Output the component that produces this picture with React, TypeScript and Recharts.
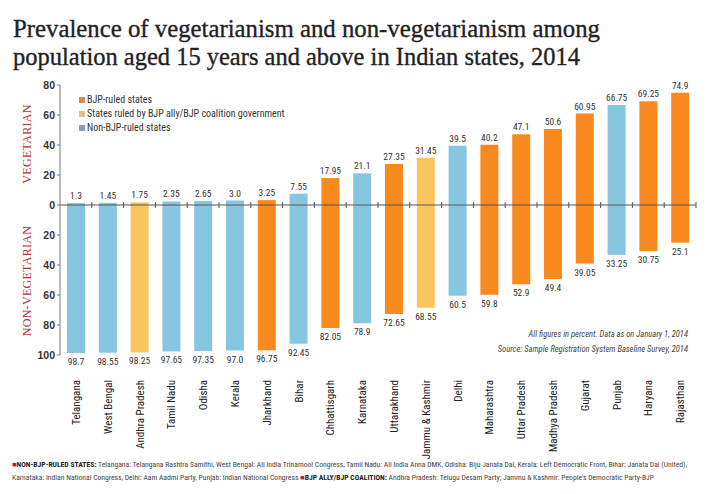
import React from 'react';
import { BarChart, Bar, XAxis, YAxis, Cell, LabelList, ReferenceLine } from 'recharts';

const states = ['Telangana', 'West Bengal', 'Andhra Pradesh', 'Tamil Nadu', 'Odisha', 'Kerala', 'Jharkhand', 'Bihar', 'Chhattisgarh', 'Karnataka', 'Uttarakhand', 'Jammu & Kashmir', 'Delhi', 'Maharashtra', 'Uttar Pradesh', 'Madhya Pradesh', 'Gujarat', 'Punjab', 'Haryana', 'Rajasthan'];
const vegValues = [1.3, 1.45, 1.75, 2.35, 2.65, 3.0, 3.25, 7.55, 17.95, 21.1, 27.35, 31.45, 39.5, 40.2, 47.1, 50.6, 60.95, 66.75, 69.25, 74.9];
const nonVegValues = [98.7, 98.55, 98.25, 97.65, 97.35, 97.0, 96.75, 92.45, 82.05, 78.9, 72.65, 68.55, 60.5, 59.8, 52.9, 49.4, 39.05, 33.25, 30.75, 25.1];
const groups = ['non', 'non', 'ally', 'non', 'non', 'non', 'bjp', 'non', 'bjp', 'non', 'bjp', 'ally', 'non', 'bjp', 'bjp', 'bjp', 'bjp', 'non', 'bjp', 'bjp'];
const yTicks = [80, 60, 40, 20, 0, -20, -40, -60, -80, -100];

const groupColors: Record<string, string> = { bjp: '#F7891F', ally: '#F9C55C', non: '#86C6E0' };
const legendItems = [
  { label: 'BJP-ruled states', color: '#D98A4E' },
  { label: 'States ruled by BJP ally/BJP coalition government', color: '#E8BC82' },
  { label: 'Non-BJP-ruled states', color: '#8E9EAB' },
];

const data = states.map((s, i) => ({ state: s, veg: vegValues[i], nonveg: -nonVegValues[i], group: groups[i] }));

const NARROW = "'Liberation Sans Narrow', 'Roboto Condensed', 'Liberation Sans', sans-serif";
const fmt = (v: number) => { const a = Math.abs(v); return Number.isInteger(a) ? a.toFixed(1) : String(a); };

const VegLabel = (p: any) => {
  const { x, y, width, height, value } = p;
  const top = Math.min(y, y + height);
  return <text x={x + width / 2} y={top - 4} textAnchor="middle" fontSize={9.5} fontFamily={NARROW} fill="#333">{fmt(value)}</text>;
};
const NonVegLabel = (p: any) => {
  const { x, y, width, height, value } = p;
  const bottom = Math.max(y, y + height);
  return <text x={x + width / 2} y={bottom + 12} textAnchor="middle" fontSize={9.5} fontFamily={NARROW} fill="#333">{fmt(value)}</text>;
};

const XTick = (p: any) => {
  const { x, y, payload } = p;
  return (
    <text x={x + 4} y={y + 17} transform={`rotate(-90 ${x + 4} ${y + 17})`} textAnchor="end" fontSize={11} fontFamily={NARROW} fill="#222">
      {payload.value}
    </text>
  );
};

const ZeroLine = (p: any) => {
  const { x1, y1, x2 } = p;
  const n = states.length;
  const step = (x2 - x1) / n;
  const ticks = [];
  for (let i = 1; i <= n; i++) {
    const tx = x1 + step * i;
    ticks.push(<line key={i} x1={tx} x2={tx} y1={y1 - 3} y2={y1 + 3} stroke="#555" strokeWidth={1} />);
  }
  return (
    <g>
      <line x1={x1} x2={x2} y1={y1} y2={y1} stroke="#555" strokeWidth={1.2} />
      {ticks}
    </g>
  );
};

export default function App() {
  return (
    <div style={{ position: 'absolute', left: 0, top: 0, width: 711, height: 494, background: '#fff', overflow: 'hidden' }}>
      <svg width={711} height={494} style={{ position: 'absolute', left: 0, top: 0 }}>
        <text x={13} y={37} fontFamily="'Liberation Serif', serif" fontSize={26} fill="#222" stroke="#222" strokeWidth={0.35} textLength={587} lengthAdjust="spacingAndGlyphs">Prevalence of vegetarianism and non-vegetarianism among</text>
        <text x={13} y={65} fontFamily="'Liberation Serif', serif" fontSize={26} fill="#222" stroke="#222" strokeWidth={0.35} textLength={567} lengthAdjust="spacingAndGlyphs">population aged 15 years and above in Indian states, 2014</text>
        <text x={31} y={144} transform="rotate(-90 31 144)" textAnchor="middle" fontFamily="'Liberation Serif', serif" fontSize={12} fill="#B23440" letterSpacing={0.3}>VEGETARIAN</text>
        <text x={31} y={281} transform="rotate(-90 31 281)" textAnchor="middle" fontFamily="'Liberation Serif', serif" fontSize={12} fill="#B23440" letterSpacing={0.3}>NON-VEGETARIAN</text>
        <text x={688} y={337} textAnchor="end" fontFamily={NARROW} fontStyle="italic" fontSize={8.5} fill="#444">All figures in percent. Data as on January 1, 2014</text>
        <text x={688} y={352} textAnchor="end" fontFamily={NARROW} fontStyle="italic" fontSize={8.5} fill="#444">Source: Sample Registration System Baseline Survey, 2014</text>
        <text x={12} y={467} fontFamily={NARROW} fontSize={7} fill="#444" textLength={675} lengthAdjust="spacingAndGlyphs">
          <tspan fill="#C8102E">■</tspan>
          <tspan fontWeight="bold" fill="#222">NON-BJP-RULED STATES: </tspan>
          <tspan>Telangana: Telangana Rashtra Samithi, West Bengal: All India Trinamool Congress, Tamil Nadu: All India Anna DMK, Odisha: Biju Janata Dal, Kerala: Left Democratic Front, Bihar: Janata Dal (United),</tspan>
        </text>
        <text x={12} y={480} fontFamily={NARROW} fontSize={7} fill="#444" textLength={642} lengthAdjust="spacingAndGlyphs">
          <tspan>Karnataka: Indian National Congress, Delhi: Aam Aadmi Party, Punjab: Indian National Congress </tspan>
          <tspan fill="#C8102E">■</tspan>
          <tspan fontWeight="bold" fill="#222">BJP ALLY/BJP COALITION: </tspan>
          <tspan>Andhra Pradesh: Telugu Desam Party; Jammu &amp; Kashmir: People's Democratic Party-BJP</tspan>
        </text>
      </svg>
      <div style={{ position: 'absolute', left: 0, top: 0 }}>
        <BarChart width={711} height={494} data={data} stackOffset="sign" margin={{ top: 85, right: 15, bottom: 10, left: 20 }} barSize={18}>
          <XAxis dataKey="state" axisLine={false} tickLine={false} height={129} interval={0} tick={<XTick />} />
          <YAxis
            domain={[-100, 80]}
            ticks={yTicks}
            interval={0}
            width={40}
            tickFormatter={(v: number) => String(Math.abs(v))}
            axisLine={{ stroke: '#777' }}
            tickLine={{ stroke: '#777' }}
            tickSize={3}
            tick={{ fontSize: 10.5, fontWeight: 'bold', fill: '#333', fontFamily: "'Liberation Sans', sans-serif" }}
          />
          <Bar dataKey="veg" stackId="a" isAnimationActive={false}>
            {data.map((d) => <Cell key={d.state} fill={groupColors[d.group]} />)}
            <LabelList dataKey="veg" content={<VegLabel />} />
          </Bar>
          <Bar dataKey="nonveg" stackId="a" isAnimationActive={false}>
            {data.map((d) => <Cell key={d.state} fill={groupColors[d.group]} />)}
            <LabelList dataKey="nonveg" content={<NonVegLabel />} />
          </Bar>
          <ReferenceLine y={0} shape={<ZeroLine />} />
        </BarChart>
      </div>
      <div style={{ position: 'absolute', left: 79, top: 93, fontFamily: NARROW, fontSize: 10, color: '#333', lineHeight: '14px' }}>
        {legendItems.map((it) => (
          <div key={it.label} style={{ display: 'flex', alignItems: 'center' }}>
            <span style={{ display: 'inline-block', width: 6, height: 6, background: it.color, marginRight: 2 }} />
            <span>{it.label}</span>
          </div>
        ))}
      </div>
    </div>
  );
}
